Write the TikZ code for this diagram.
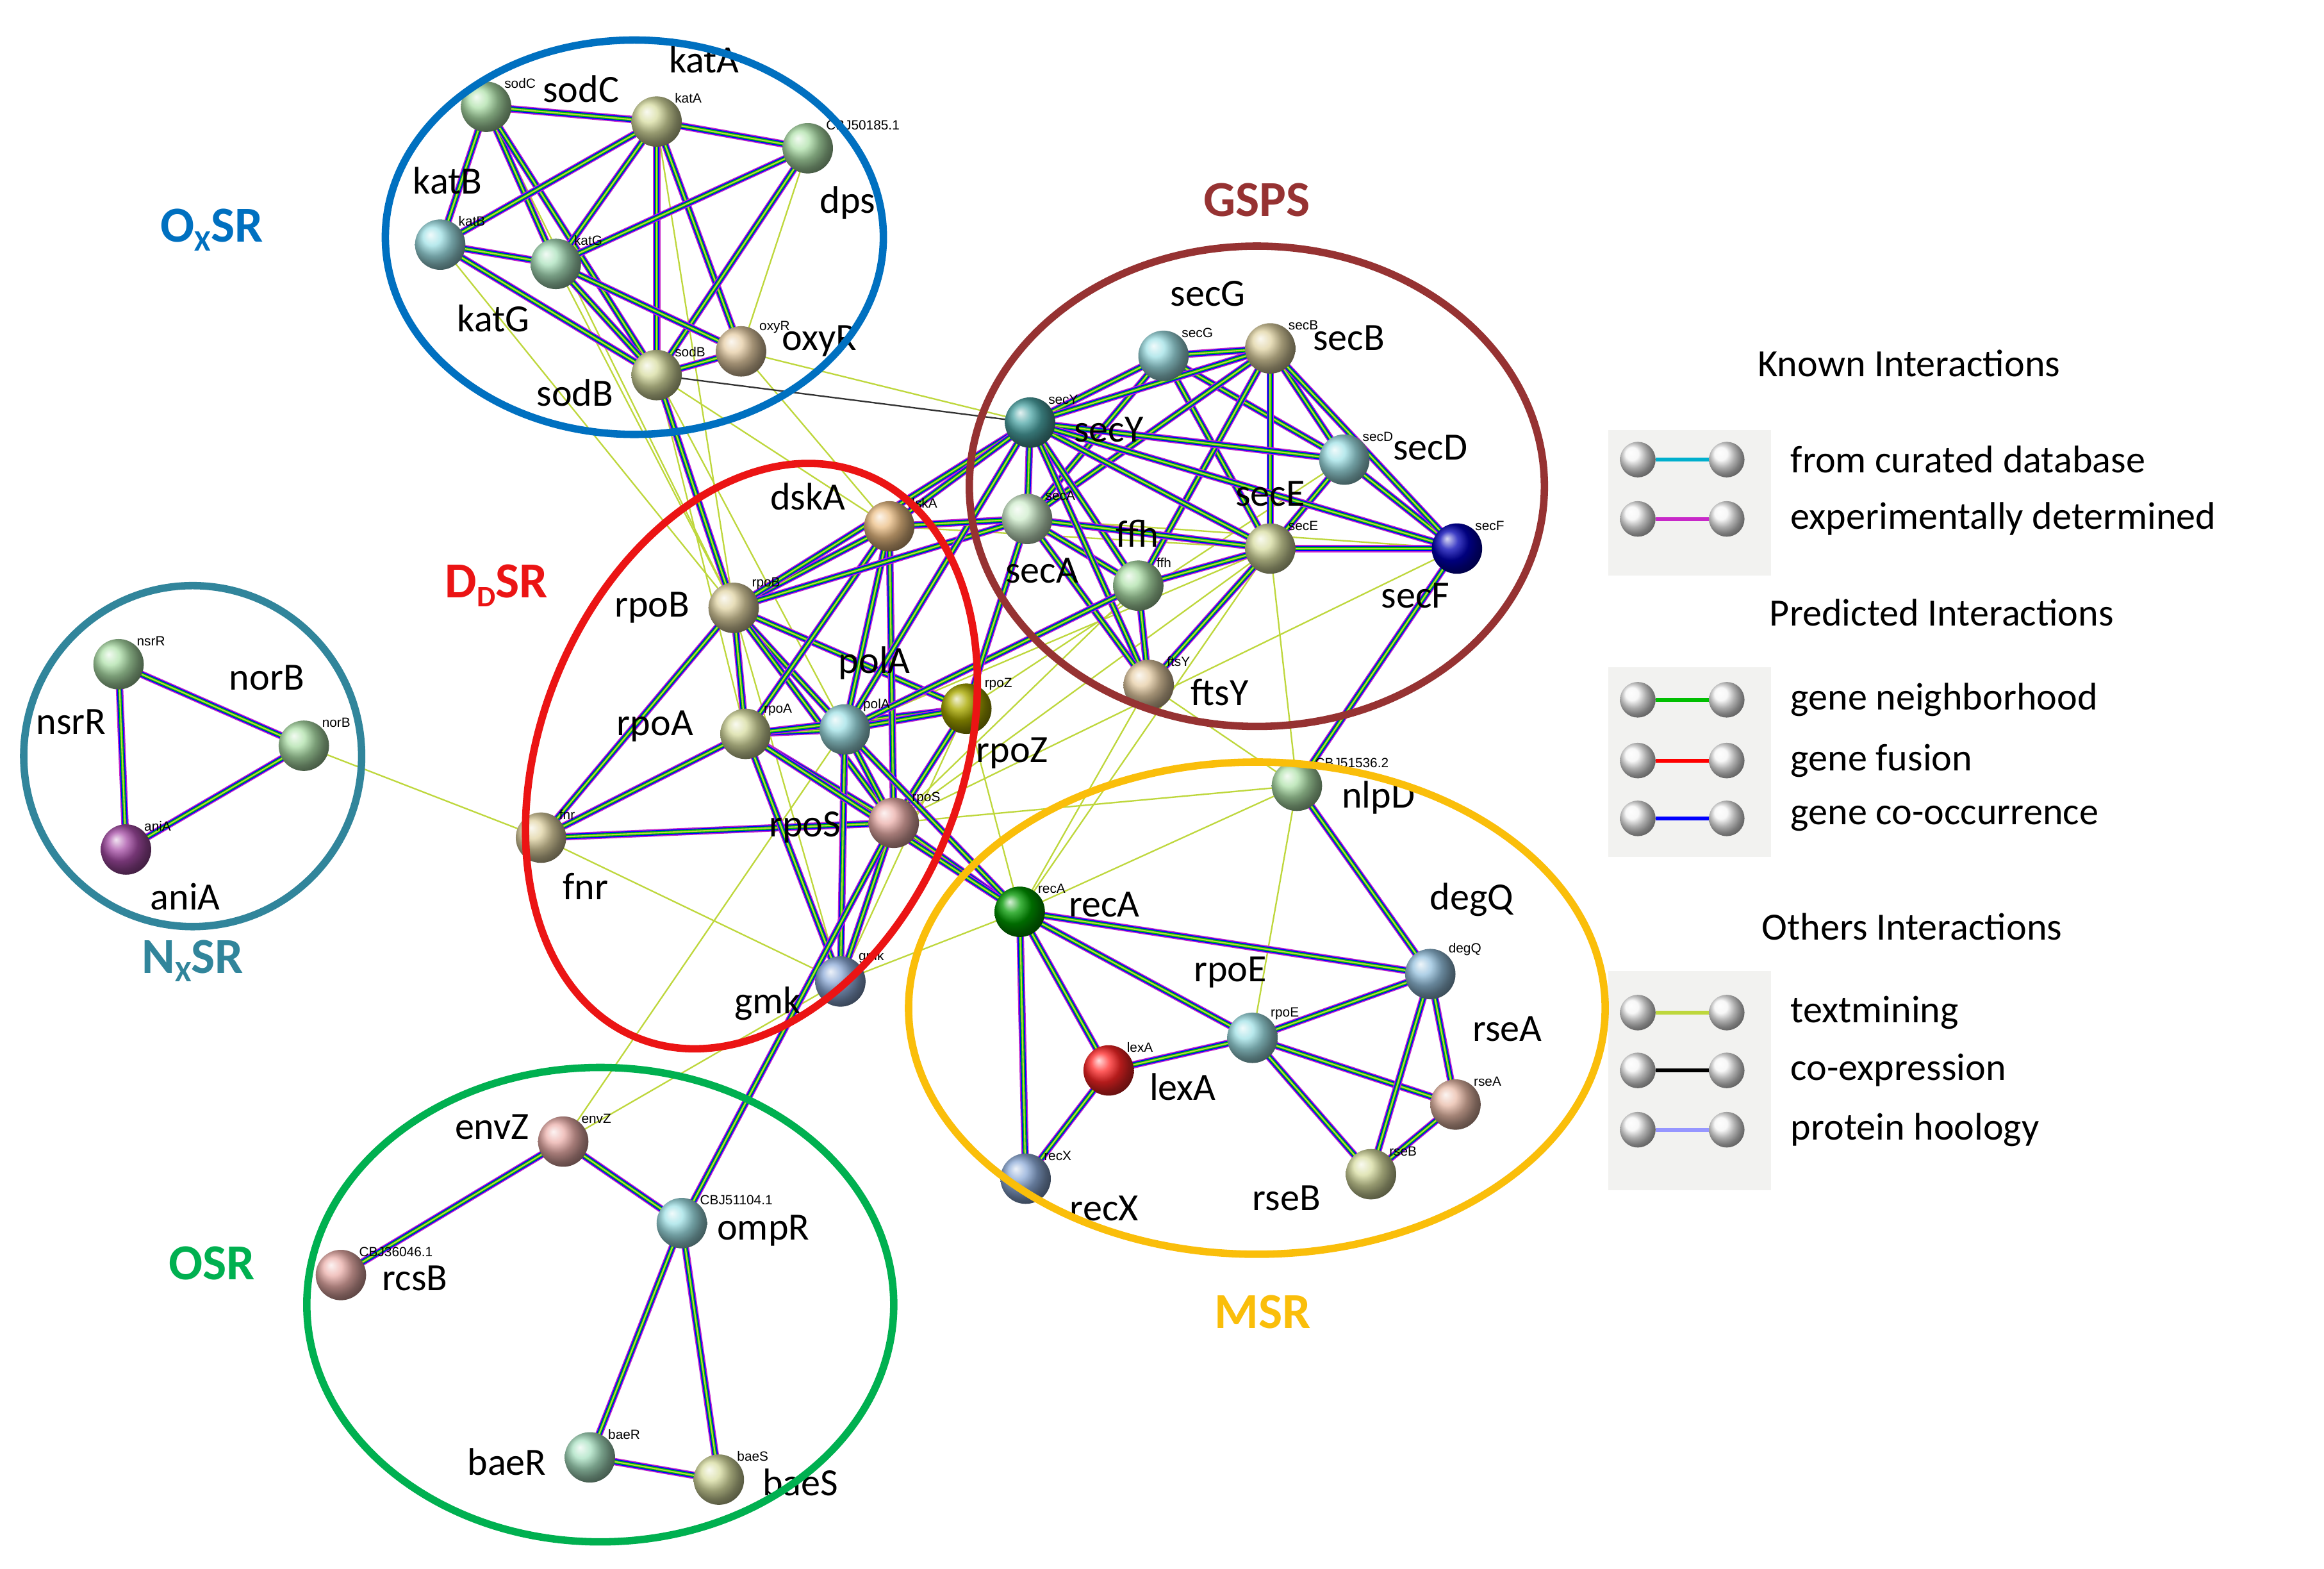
\documentclass[tikz,border=0pt]{standalone}
\usepackage{fontspec}
\setmainfont{Carlito}
\newfontfamily\arialf{Liberation Sans}
\usetikzlibrary{backgrounds,calc}
\definecolor{cOx}{RGB}{0,112,192}
\definecolor{cGS}{RGB}{150,50,50}
\definecolor{cDD}{RGB}{235,20,20}
\definecolor{cNx}{RGB}{49,133,155}
\definecolor{cMS}{RGB}{250,190,10}
\definecolor{cOS}{RGB}{0,176,80}
\definecolor{tm}{RGB}{190,215,60}
\definecolor{cur}{RGB}{0,175,205}
\definecolor{exd}{RGB}{200,40,200}
\definecolor{hom}{RGB}{150,150,255}
\definecolor{lg}{RGB}{242,242,240}
\definecolor{bg1}{RGB}{175,225,170}
\definecolor{bcy}{RGB}{160,225,230}
\definecolor{btn}{RGB}{230,205,165}
\definecolor{bol}{RGB}{215,220,160}
\definecolor{bpk}{RGB}{235,175,170}
\definecolor{bbl}{RGB}{140,170,215}
\tikzset{
 gball/.style={circle,minimum size=34pt,inner sep=0pt,shading=ball,ball color=#1},
 big/.style={font=\fontsize{26}{28}\selectfont,inner sep=0pt},
 sml/.style={font=\arialf\fontsize{9}{10}\selectfont,inner sep=0pt,anchor=south west},
 grp/.style={font=\fontsize{34}{36}\selectfont\bfseries,inner sep=0pt},
 ring/.style={line width=5pt,draw=#1},
 bund/.style={line width=5pt,draw=exd,postaction={draw=blue,line width=3.6pt},postaction={draw=green!75!black,line width=2.2pt},postaction={draw=tm,line width=0.9pt}},
 thin/.style={line width=1pt,draw=tm},
 thinb/.style={line width=1pt,draw=black!80},
 leg/.style={font=\fontsize{26}{28}\selectfont,anchor=west,inner sep=0pt},
 lball/.style={circle,minimum size=24pt,inner sep=0pt,shading=ball,ball color=white!92!gray},
}
\newcommand\gn[8]{\node[gball=#4,label={[sml]north east:#8}] (#1) at (#2,#3) {};\node[big] at (#5,#6) {#7};}
\newcommand\legi[3]{\node[lball] (la#3) at (1105,#1) {};\node[lball] (lb#3) at (1165,#1) {};
 \begin{pgfonlayer}{background}\draw[line width=2.5pt,#2] (la#3)--(lb#3);\end{pgfonlayer}}
\begin{document}
\begin{tikzpicture}[x=1pt,y=-1pt]
\useasboundingbox (0,0) rectangle (1568,1058);
\begin{pgfonlayer}{background}
\fill[white] (0,0) rectangle (1568,1058);
\fill[lg] (1085,290) rectangle (1195,388);
\fill[lg] (1085,450) rectangle (1195,578);
\fill[lg] (1085,655) rectangle (1195,803);
\end{pgfonlayer}
% OxSR
\gn{sodC}{328}{72}{bg1}{392}{60}{sodC}{sodC}
\gn{katA}{443}{82}{bol}{475}{40}{katA}{katA}
\gn{dps}{545}{100}{bg1}{572}{137}{dps}{CBJ50185.1}
\gn{katB}{297}{165}{bcy}{302}{122}{katB}{katB}
\gn{katG}{375}{178}{bg1!70!bcy}{333}{215}{katG}{katG}
\gn{sodB}{443}{253}{bol}{388}{265}{sodB}{sodB}
\gn{oxyR}{500}{237}{btn}{553}{230}{oxyR}{oxyR}
% GSPS
\gn{secG}{785}{240}{bcy}{815}{198}{secG}{secG}
\gn{secB}{857}{235}{btn!60!bol}{910}{228}{secB}{secB}
\gn{secY}{695}{285}{teal!70}{748}{290}{secY}{secY}
\gn{secD}{907}{310}{bcy}{965}{302}{secD}{secD}
\gn{secA}{693}{350}{bg1!60!white}{703}{385}{secA}{secA}
\gn{ffh}{768}{395}{bg1}{767}{360}{ffh}{ffh}
\gn{secE}{857}{370}{bol}{857}{333}{secE}{secE}
\gn{secF}{983}{370}{blue!70!black}{955}{402}{secF}{secF}
\gn{ftsY}{775}{462}{btn}{823}{467}{ftsY}{ftsY}
% DDSR
\gn{dskA}{600}{355}{btn!80!orange}{545}{335}{dskA}{dskA}
\gn{rpoB}{495}{410}{btn!60!bol}{440}{410}{rpoB}{rpoB}
\gn{polA}{570}{492}{bcy}{590}{447}{polA}{polA}
\gn{rpoA}{503}{495}{bol}{442}{490}{rpoA}{rpoA}
\gn{rpoZ}{652}{478}{olive!70}{683}{508}{rpoZ}{rpoZ}
\gn{rpoS}{603}{555}{bpk}{543}{558}{rpoS}{rpoS}
\gn{fnr}{365}{565}{btn!60!bol}{395}{598}{fnr}{fnr}
\gn{gmk}{567}{662}{bbl}{518}{677}{gmk}{gmk}
% NxSR
\gn{nsrR}{80}{448}{bg1}{48}{487}{nsrR}{nsrR}
\gn{norB}{205}{503}{bg1}{180}{457}{norB}{norB}
\gn{aniA}{85}{573}{violet!70}{125}{605}{aniA}{aniA}
% MSR
\gn{nlpD}{875}{530}{bg1}{930}{538}{nlpD}{CBJ51536.2}
\gn{recA}{688}{615}{green!60!black}{745}{610}{recA}{recA}
\gn{degQ}{965}{657}{bbl!60!bcy}{993}{607}{degQ}{degQ}
\gn{rpoE}{845}{700}{bcy}{830}{656}{rpoE}{rpoE}
\gn{lexA}{748}{722}{red!85}{798}{733}{lexA}{lexA}
\gn{rseA}{982}{745}{bpk!60!btn}{1017}{694}{rseA}{rseA}
\gn{recX}{692}{795}{bbl}{745}{815}{recX}{recX}
\gn{rseB}{925}{792}{bol}{868}{808}{rseB}{rseB}
% OSR
\gn{envZ}{380}{770}{bpk}{332}{760}{envZ}{envZ}
\gn{ompR}{460}{825}{bcy}{515}{830}{ompR}{CBJ51104.1}
\gn{rcsB}{230}{860}{bpk}{280}{862}{rcsB}{CBJ36046.1}
\gn{baeR}{398}{983}{bg1!60!bcy}{342}{986}{baeR}{baeR}
\gn{baeS}{485}{998}{bol}{540}{1000}{baeS}{baeS}
\begin{pgfonlayer}{background}
\foreach \a/\b in {norB/fnr,dps/oxyR,katG/rpoB,sodB/dskA,sodB/rpoA,katA/rpoB,oxyR/dskA,oxyR/secY,sodC/rpoB,nlpD/ftsY,nlpD/rpoS,nlpD/rpoE,nlpD/recA,nlpD/secE,recA/rpoZ,recA/ftsY,gmk/envZ,envZ/polA,gmk/rpoZ,gmk/rpoB,secF/secA,rpoS/ffh,rpoS/secE,fnr/gmk,polA/secE,rpoZ/secD,recA/secE,gmk/recA,katB/rpoB,sodB/polA,dskA/secE,rpoS/secF}
 \draw[thin] (\a.center)--(\b.center);
\draw[thinb] (sodB.center)--(secY.center);
\foreach \a/\b in {sodC/katA,sodC/katB,sodC/katG,sodC/sodB,katA/dps,katA/katB,katA/katG,katA/sodB,katA/oxyR,dps/sodB,dps/katG,katB/katG,katB/sodB,katG/sodB,sodB/oxyR,katG/oxyR,
 nsrR/norB,nsrR/aniA,norB/aniA,
 secG/secB,secG/secY,secG/secA,secG/secD,secG/secE,secB/secY,secB/secD,secB/secE,secB/secA,secB/ffh,secY/secA,secY/secE,secY/secD,secY/ffh,secA/ffh,secA/secE,secD/secE,secD/secF,secE/secF,ffh/secE,ffh/ftsY,secY/ftsY,secA/ftsY,secE/ftsY,secF/secY,secB/secF,
 rpoB/rpoA,rpoB/polA,rpoB/rpoZ,rpoB/rpoS,rpoA/polA,rpoA/rpoZ,rpoA/rpoS,polA/rpoS,rpoZ/rpoS,polA/rpoZ,dskA/rpoB,dskA/rpoA,dskA/polA,dskA/rpoS,fnr/rpoA,fnr/rpoS,fnr/rpoB,gmk/rpoS,gmk/rpoA,gmk/polA,
 rpoB/secA,rpoB/secY,polA/secY,polA/ffh,dskA/secY,dskA/secA,rpoZ/secA,rpoS/recA,polA/recA,rpoA/recA,nlpD/secF,sodB/rpoB,rpoS/ompR,
 recA/lexA,recA/recX,recA/degQ,recA/rpoE,lexA/recX,lexA/rpoE,rpoE/degQ,rpoE/rseA,rpoE/rseB,degQ/rseA,degQ/rseB,rseA/rseB,nlpD/degQ,
 envZ/ompR,envZ/rcsB,ompR/baeR,ompR/baeS,baeR/baeS}
 \draw[bund] (\a.center)--(\b.center);
\end{pgfonlayer}
% rings
\draw[ring=cOx] (428,160) ellipse [x radius=168,y radius=133];
\draw[ring=cGS] (848,328) ellipse [x radius=194,y radius=162];
\draw[ring=cDD,rotate around={-22:(507,510)}] (507,510) ellipse [x radius=142,y radius=205];
\draw[ring=cNx] (130,510) ellipse [x radius=114,y radius=115];
\draw[ring=cMS] (848,680) ellipse [x radius=235,y radius=166];
\draw[ring=cOS] (405,880) ellipse [x radius=198,y radius=160];
\node[grp,text=cOx] at (143,155) {O\raisebox{-0.35ex}{\fontsize{20}{20}\selectfont X}SR};
\node[grp,text=cGS] at (848,135) {GSPS};
\node[grp,text=cDD] at (335,395) {D\raisebox{-0.35ex}{\fontsize{20}{20}\selectfont D}SR};
\node[grp,text=cNx] at (130,648) {N\raisebox{-0.35ex}{\fontsize{20}{20}\selectfont X}SR};
\node[grp,text=cMS] at (852,885) {MSR};
\node[grp,text=cOS] at (143,852) {OSR};
% legend
\node[big] at (1288,245) {Known Interactions};
\node[big] at (1310,413) {Predicted Interactions};
\node[big] at (1290,625) {Others Interactions};
\legi{310}{draw=cur}{1}\node[leg] at (1208,310) {from curated database};
\legi{350}{draw=exd}{2}\node[leg] at (1208,350) {experimentally determined};
\legi{472}{draw=green!75!black}{3}\node[leg] at (1208,472) {gene neighborhood};
\legi{513}{draw=red}{4}\node[leg] at (1208,513) {gene fusion};
\legi{552}{draw=blue}{5}\node[leg] at (1208,552) {gene co-occurrence};
\legi{683}{draw=tm}{6}\node[leg] at (1208,683) {textmining};
\legi{722}{draw=black}{7}\node[leg] at (1208,722) {co-expression};
\legi{762}{draw=hom}{8}\node[leg] at (1208,762) {protein hoology};
\end{tikzpicture}
\end{document}
